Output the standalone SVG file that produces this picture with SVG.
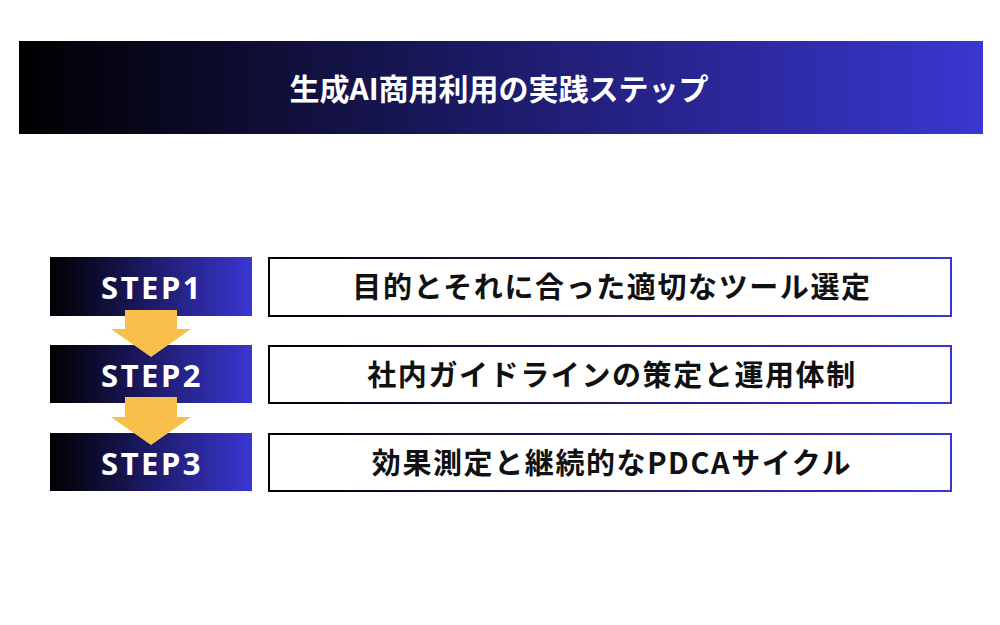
<svg xmlns="http://www.w3.org/2000/svg" width="1000" height="625" viewBox="0 0 1000 625">
<defs>
<linearGradient id="g" x1="0" y1="0" x2="1" y2="0">
<stop offset="0" stop-color="#000000"/>
<stop offset="1" stop-color="#3a36d2"/>
</linearGradient>
<linearGradient id="gs" gradientUnits="userSpaceOnUse" x1="268" y1="0" x2="951" y2="0">
<stop offset="0" stop-color="#000000"/>
<stop offset="1" stop-color="#3a36d2"/>
</linearGradient>
</defs>
<style>
.step{fill:url(#g)}
.box{fill:#ffffff;stroke:url(#gs);stroke-width:2}
.arrow{fill:#f8c04b}
.st{font-family:"Noto Sans","Noto Sans CJK JP",sans-serif;font-weight:bold;font-size:31px;fill:#ffffff;text-anchor:middle;letter-spacing:2.5px}
.bt{font-family:"Noto Sans CJK JP",sans-serif;font-weight:bold;font-size:29px;fill:#111111;text-anchor:middle;letter-spacing:1.6px}
.ht{font-family:"Noto Sans CJK JP",sans-serif;font-weight:bold;font-size:30px;fill:#ffffff;text-anchor:middle}
</style>
<rect width="1000" height="625" fill="#ffffff"/>
<g id="header">
<rect x="19" y="41" width="964" height="93" class="step"/>
<text x="499" y="100" class="ht">生成AI商用利用の実践ステップ</text>
</g>
<g id="step1">
<rect x="50" y="257" width="202" height="59" class="step"/>
</g>
<g id="step2">
<rect x="50" y="345" width="202" height="58" class="step"/>
</g>
<g id="step3">
<rect x="50" y="433" width="202" height="58" class="step"/>
</g>
<g id="connectors">
<polygon class="arrow" points="125,310 177,310 177,329 191,329 151,357 111,329 125,329"/>
<polygon class="arrow" points="125,397 177,397 177,417 191,417 151,445 111,417 125,417"/>
</g>
<g id="labels">
<text x="152" y="299" class="st">STEP1</text>
<text x="152" y="387" class="st">STEP2</text>
<text x="152" y="475" class="st">STEP3</text>
</g>
<g id="box1">
<rect x="269" y="258" width="682" height="58" class="box"/>
<text x="612" y="298" class="bt">目的とそれに合った適切なツール選定</text>
</g>
<g id="box2">
<rect x="269" y="346" width="682" height="57" class="box"/>
<text x="612" y="386" class="bt">社内ガイドラインの策定と運用体制</text>
</g>
<g id="box3">
<rect x="269" y="434" width="682" height="57" class="box"/>
<text x="612" y="474" class="bt">効果測定と継続的なPDCAサイクル</text>
</g>
</svg>
